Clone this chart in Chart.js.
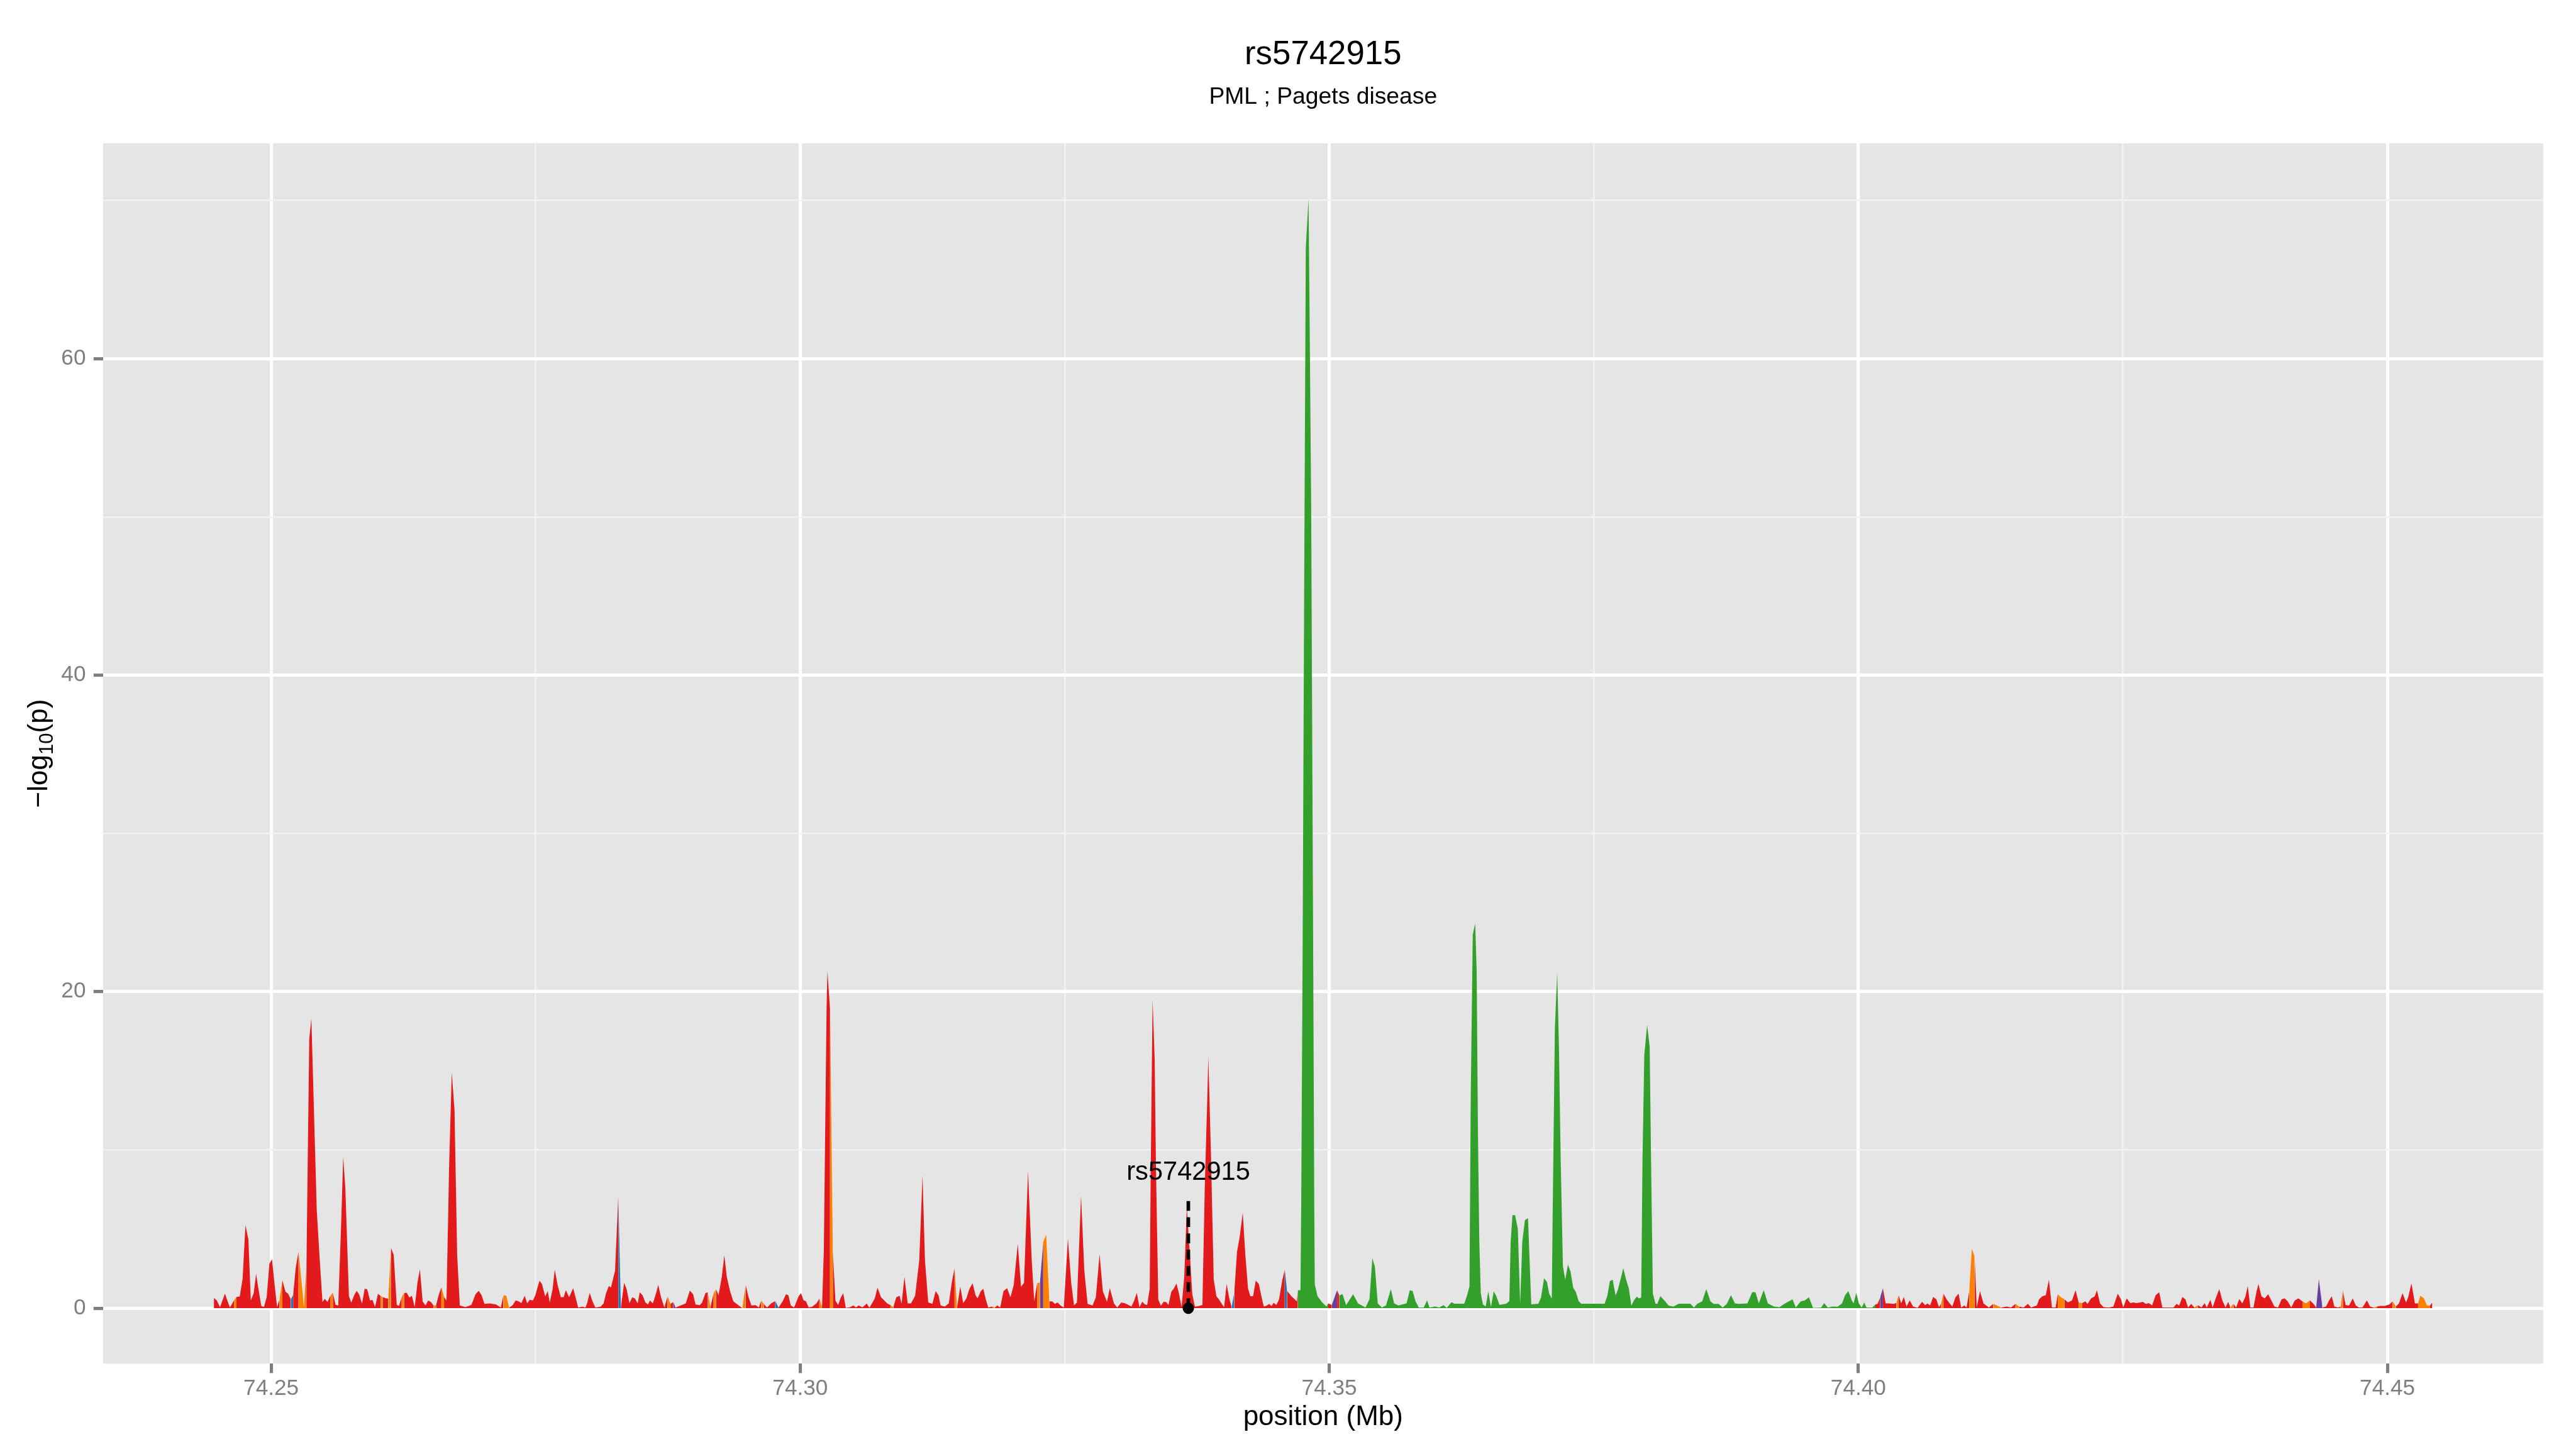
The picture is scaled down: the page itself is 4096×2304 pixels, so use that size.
<!DOCTYPE html>
<html><head><meta charset="utf-8">
<script src="https://cdn.jsdelivr.net/npm/chart.js@4.4.1/dist/chart.umd.min.js"></script>
<style>html,body{margin:0;padding:0;background:#fff;}#wrap{width:4096px;height:2304px;position:relative;}</style>
</head><body><div id="wrap"><canvas id="c"></canvas></div>
<script>
// ---------------- data ----------------
const chartTitle = 'rs5742915';
const chartSubtitle = 'PML ; Pagets disease';
const xAxisTitle = 'position (Mb)';
const leadSnp = 'rs5742915';
const leadPos = 74.33668;
const leadLogP = 7.0;
const leadLabelY = 8.1;

const positionMb = [
74.24459,74.24486,74.24517,74.24563,74.24610,74.24649,74.24672,74.24703,74.24730,74.24757,
74.24785,74.24808,74.24835,74.24858,74.24873,74.24907,74.24932,74.24958,74.24983,74.25008,
74.25034,74.25056,74.25079,74.25106,74.25135,74.25161,74.25186,74.25208,74.25233,74.25259,
74.25287,74.25309,74.25333,74.25360,74.25380,74.25431,74.25456,74.25485,74.25507,74.25532,
74.25558,74.25583,74.25609,74.25634,74.25659,74.25681,74.25701,74.25735,74.25757,74.25786,
74.25808,74.25832,74.25859,74.25884,74.25908,74.25935,74.25958,74.25982,74.26009,74.26036,
74.26056,74.26082,74.26107,74.26132,74.26158,74.26187,74.26208,74.26234,74.26256,74.26281,
74.26307,74.26330,74.26357,74.26383,74.26406,74.26432,74.26459,74.26484,74.26510,74.26535,
74.26558,74.26584,74.26609,74.26634,74.26657,74.26682,74.26707,74.26733,74.26758,74.26783,
74.26834,74.26868,74.26893,74.26931,74.26962,74.26989,74.27016,74.27067,74.27125,74.27171,
74.27195,74.27222,74.27249,74.27280,74.27311,74.27338,74.27365,74.27396,74.27420,74.27443,
74.27474,74.27497,74.27513,74.27536,74.27559,74.27590,74.27614,74.27633,74.27660,74.27680,
74.27707,74.27738,74.27765,74.27785,74.27816,74.27854,74.27882,74.27901,74.27940,74.27971,
74.27986,74.28010,74.28037,74.28064,74.28114,74.28142,74.28165,74.28192,74.28211,74.28250,
74.28281,74.28305,74.28336,74.28359,74.28386,74.28413,74.28437,74.28464,74.28483,74.28510,
74.28537,74.28561,74.28580,74.28607,74.28638,74.28658,74.28685,74.28716,74.28747,74.28774,
74.28801,74.28821,74.28871,74.28918,74.28957,74.28988,74.29011,74.29050,74.29073,74.29104,
74.29127,74.29151,74.29182,74.29205,74.29228,74.29259,74.29283,74.29306,74.29337,74.29368,
74.29415,74.29453,74.29484,74.29512,74.29539,74.29578,74.29609,74.29632,74.29655,74.29686,
74.29725,74.29764,74.29795,74.29834,74.29865,74.29888,74.29911,74.29942,74.29986,74.30007,
74.30032,74.30054,74.30080,74.30113,74.30156,74.30181,74.30206,74.30223,74.30249,74.30257,
74.30282,74.30308,74.30333,74.30359,74.30380,74.30406,74.30431,74.30468,74.30502,74.30527,
74.30553,74.30587,74.30629,74.30654,74.30705,74.30730,74.30764,74.30822,74.30853,74.30880,
74.30908,74.30939,74.30958,74.30985,74.31016,74.31047,74.31086,74.31125,74.31156,74.31179,
74.31210,74.31249,74.31280,74.31307,74.31327,74.31366,74.31404,74.31435,74.31459,74.31482,
74.31513,74.31540,74.31571,74.31598,74.31629,74.31657,74.31676,74.31707,74.31730,74.31754,
74.31777,74.31816,74.31839,74.31862,74.31890,74.31921,74.31955,74.31987,74.32018,74.32056,
74.32087,74.32115,74.32153,74.32188,74.32212,74.32239,74.32266,74.32297,74.32324,74.32355,
74.32382,74.32406,74.32433,74.32460,74.32491,74.32530,74.32561,74.32588,74.32615,74.32654,
74.32685,74.32716,74.32763,74.32794,74.32829,74.32860,74.32899,74.32926,74.32965,74.32996,
74.33034,74.33073,74.33130,74.33156,74.33181,74.33206,74.33232,74.33257,74.33279,74.33303,
74.33313,74.33330,74.33350,74.33362,74.33384,74.33409,74.33435,74.33460,74.33480,74.33507,
74.33531,74.33556,74.33578,74.33604,74.33629,74.33654,74.33683,74.33705,74.33730,74.33764,
74.33801,74.33823,74.33844,74.33857,74.33882,74.33908,74.33933,74.33958,74.33984,74.34006,
74.34030,74.34055,74.34077,74.34102,74.34128,74.34153,74.34182,74.34207,74.34232,74.34254,
74.34280,74.34305,74.34334,74.34356,74.34381,74.34406,74.34432,74.34454,74.34474,74.34500,
74.34525,74.34555,74.34579,74.34601,74.34643,74.34674,74.34693,74.34703,74.34728,74.34735,
74.34748,74.34762,74.34778,74.34804,74.34812,74.34829,74.34846,74.34858,74.34863,74.34889,
74.34931,74.34973,74.34990,74.35024,74.35074,74.35095,74.35125,74.35159,74.35225,74.35272,
74.35342,74.35380,74.35407,74.35431,74.35458,74.35497,74.35536,74.35582,74.35613,74.35652,
74.35730,74.35761,74.35788,74.35815,74.35846,74.35893,74.35924,74.35947,74.36001,74.36040,
74.36079,74.36110,74.36156,74.36182,74.36275,74.36300,74.36325,74.36337,74.36356,74.36379,
74.36393,74.36405,74.36418,74.36432,74.36452,74.36478,74.36503,74.36528,74.36554,74.36579,
74.36608,74.36638,74.36672,74.36702,74.36714,74.36731,74.36756,74.36782,74.36804,74.36824,
74.36849,74.36878,74.36909,74.36976,74.37001,74.37030,74.37057,74.37078,74.37103,74.37111,
74.37132,74.37154,74.37171,74.37187,74.37208,74.37230,74.37255,74.37280,74.37306,74.37331,
74.37356,74.37382,74.37602,74.37627,74.37652,74.37678,74.37706,74.37728,74.37779,74.37805,
74.37830,74.37855,74.37880,74.37906,74.37926,74.37948,74.37960,74.37977,74.38004,74.38028,
74.38041,74.38058,74.38083,74.38100,74.38129,74.38176,74.38207,74.38252,74.38303,74.38413,
74.38446,74.38477,74.38524,74.38563,74.38602,74.38633,74.38679,74.38718,74.38757,74.38796,
74.38834,74.38873,74.38951,74.38997,74.39028,74.39059,74.39106,74.39145,74.39203,74.39254,
74.39300,74.39378,74.39409,74.39455,74.39494,74.39533,74.39572,74.39649,74.39677,74.39711,
74.39762,74.39804,74.39846,74.39875,74.39905,74.39938,74.39955,74.39980,74.40005,74.40031,
74.40056,74.40077,74.40132,74.40161,74.40182,74.40207,74.40232,74.40258,74.40287,74.40329,
74.40359,74.40380,74.40405,74.40430,74.40455,74.40485,74.40518,74.40560,74.40602,74.40632,
74.40653,74.40678,74.40707,74.40737,74.40762,74.40783,74.40804,74.40834,74.40863,74.40888,
74.40918,74.40947,74.40972,74.41002,74.41023,74.41048,74.41073,74.41098,74.41119,74.41149,
74.41183,74.41233,74.41275,74.41309,74.41351,74.41401,74.41443,74.41485,74.41519,74.41561,
74.41603,74.41632,74.41687,74.41708,74.41737,74.41771,74.41801,74.41830,74.41864,74.41885,
74.41914,74.41948,74.41981,74.42019,74.42053,74.42082,74.42116,74.42145,74.42166,74.42200,
74.42234,74.42255,74.42284,74.42318,74.42368,74.42410,74.42452,74.42482,74.42503,74.42536,
74.42570,74.42599,74.42629,74.42662,74.42688,74.42717,74.42746,74.42776,74.42810,74.42843,
74.42873,74.42978,74.43007,74.43032,74.43062,74.43091,74.43116,74.43146,74.43175,74.43209,
74.43243,74.43272,74.43293,74.43327,74.43348,74.43377,74.43411,74.43440,74.43470,74.43495,
74.43516,74.43545,74.43570,74.43600,74.43629,74.43659,74.43680,74.43705,74.43734,74.43764,
74.43781,74.43810,74.43840,74.43873,74.43903,74.43932,74.43966,74.44000,74.44029,74.44058,
74.44091,74.44125,74.44159,74.44197,74.44230,74.44268,74.44302,74.44327,74.44352,74.44386,
74.44420,74.44449,74.44474,74.44499,74.44533,74.44558,74.44579,74.44605,74.44638,74.44672,
74.44701,74.44730,74.44764,74.44806,74.44836,74.44869,74.44899,74.44933,74.44975,74.45017,
74.45050,74.45080,74.45109,74.45143,74.45176,74.45197,74.45227,74.45260,74.45290,74.45311,
74.45345,74.45374,74.45403,74.45424
];

const logP = [
0.65,0.49,0.06,0.92,0.04,0.49,0.71,0.74,1.85,5.25,
4.35,0.48,0.95,2.18,1.5,0.14,0.07,0.7,2.8,3.09,
1.4,0.07,0.56,1.76,1.05,0.91,0.56,0.84,2.6,3.58,
1.7,0.07,2.5,17.0,18.3,6.2,3.4,0.39,0.59,0.39,
0.77,0.98,0.21,0.17,4.8,9.55,7.6,0.77,0.35,0.84,
1.1,0.87,0.28,1.24,1.19,0.49,0.52,0.07,0.91,0.77,
0.7,0.63,0.6,3.82,3.37,0.21,0.14,0.7,0.96,0.98,
0.67,0.79,0.07,1.62,2.46,0.42,0.17,0.49,0.39,0.17,
0.18,0.84,1.33,0.7,0.49,9.0,14.9,12.5,3.37,0.17,
0.07,0.14,0.21,0.88,1.10,0.82,0.27,0.30,0.23,0.04,
0.82,0.79,0.04,0.17,0.49,0.43,0.32,0.79,0.30,0.53,
0.49,0.82,1.21,1.73,1.53,0.75,1.08,0.36,1.21,2.44,
1.47,0.69,0.71,1.14,0.69,1.27,0.56,0.04,0.09,0.04,
0.30,0.97,0.43,0.04,0.09,0.30,0.95,1.40,1.31,2.37,
7.11,0.04,1.60,1.21,0.32,0.69,0.62,0.30,1.01,0.82,
0.36,0.23,0.49,0.30,0.95,1.47,0.69,0.04,0.75,0.27,
0.39,0.04,0.17,0.30,1.12,0.88,0.23,0.19,0.36,0.95,
1.01,0.04,0.95,1.21,0.82,1.98,3.35,1.98,1.08,0.43,
0.19,0.0,1.47,0.69,0.17,0.19,0.04,0.49,0.27,0.04,
0.30,0.45,0.04,0.43,0.88,0.82,0.17,0.04,0.77,0.95,
0.50,0.44,0.05,0.09,0.32,0.62,0.05,3.6,18.9,21.3,
18.9,3.6,0.47,0.20,0.62,0.95,0.02,0.05,0.17,0.05,
0.17,0.05,0.29,0.02,0.62,1.3,0.69,0.30,0.19,0.06,
0.69,0.79,0.27,1.98,0.30,0.30,0.79,3.02,8.40,3.02,
0.36,0.27,1.08,0.82,0.17,0.10,0.30,1.73,2.53,0.04,
1.36,0.32,0.62,1.21,1.57,0.82,0.62,1.08,1.23,0.56,
0.04,0.10,0.04,0.17,0.04,1.08,1.27,0.69,1.47,4.06,
1.34,1.60,8.66,3.02,0.43,1.57,1.62,4.19,4.64,0.43,
0.43,0.27,0.36,0.17,0.04,4.38,1.60,0.17,0.36,7.11,
2.37,0.27,0.17,0.69,3.41,1.08,0.40,1.27,0.30,0.04,
0.36,0.30,0.10,0.48,0.97,0.06,0.41,0.24,0.20,1.25,
8.97,19.5,15.7,8.97,0.55,0.15,0.41,0.38,0.20,1.04,
1.25,1.56,0.97,0.06,1.95,6.38,3.36,0.90,0.10,0.13,
0.20,7.57,12.5,15.9,9.68,1.81,0.76,0.55,0.27,0.06,
1.53,0.62,0.06,0.97,3.57,4.48,6.03,3.36,1.25,0.76,
0.76,1.74,1.53,0.83,0.10,0.15,0.27,0.13,0.34,0.20,
0.55,1.74,2.44,1.10,0.75,0.56,0.43,1.14,1.14,6.85,
22.5,44.4,67.0,70.1,64.2,50.6,25.4,6.6,1.5,0.76,
0.38,0.10,0.30,0.2,1.14,0.8,0.9,0.19,0.88,0.30,
0.04,0.56,3.15,2.63,0.30,0.04,0.17,1.21,0.30,0.17,
0.30,1.14,1.08,0.43,0.04,0.04,0.49,0.04,0.10,0.04,
0.19,0.02,0.38,0.28,0.28,0.76,1.37,13.4,23.6,24.3,
21.3,11.1,4.2,0.93,0.24,0.10,1.07,0.07,1.07,0.76,
0.21,0.24,0.28,0.45,4.2,5.87,5.87,5.0,0.24,4.2,
5.57,5.69,0.24,0.28,0.67,1.89,1.66,0.93,0.59,5.95,
17.7,21.2,16.3,9.4,2.66,1.8,2.75,2.32,1.28,1.02,
0.45,0.28,0.28,0.76,1.71,1.80,0.80,1.19,2.53,1.80,
1.28,0.16,0.50,0.73,0.62,0.67,9.4,16.0,17.9,16.5,
9.4,0.93,0.28,0.28,0.76,0.42,0.16,0.10,0.28,0.28,
0.04,0.27,0.43,1.21,0.43,0.27,0.27,0.04,0.27,0.82,
0.30,0.27,0.30,1.01,1.01,0.30,1.14,0.30,0.10,0.06,
0.27,0.56,0.04,0.43,0.49,0.69,0.02,0.04,0.32,0.04,
0.10,0.09,0.30,0.82,1.08,0.49,0.30,0.97,0.30,0.04,
0.36,0.04,0.04,0.23,0.27,0.69,1.27,0.30,0.30,0.27,
0.32,0.82,0.30,0.71,0.10,0.49,0.10,0.02,0.40,0.19,
0.30,0.17,0.71,0.56,0.06,0.30,0.92,0.56,0.30,0.10,
0.69,0.92,0.04,0.17,0.04,1.08,3.76,3.28,0.04,1.08,
0.30,0.04,0.27,0.17,0.04,0.10,0.04,0.27,0.10,0.04,
0.27,0.04,0.17,0.56,0.75,0.82,1.79,0.04,0.04,0.88,
0.69,0.56,0.36,0.49,1.14,0.36,0.32,0.43,0.27,0.62,
0.75,1.14,0.30,0.06,0.04,0.10,0.92,0.56,0.04,0.62,
0.32,0.36,0.32,0.36,0.40,0.27,0.32,0.17,0.82,1.01,
0.04,0.04,0.27,0.17,0.71,0.56,0.04,0.27,0.04,0.19,
0.04,0.32,0.04,0.53,0.04,0.62,1.21,0.49,0.04,0.40,
0.04,0.27,0.04,0.58,0.30,0.75,1.40,0.04,0.04,1.08,
1.53,0.75,0.62,0.88,0.49,0.10,0.04,0.56,0.62,0.43,
0.04,0.49,0.62,0.43,0.30,0.49,0.27,0.04,1.83,0.04,
0.10,0.49,0.75,0.10,0.04,0.10,1.12,0.19,0.17,0.62,
0.17,0.04,0.04,0.49,0.10,0.04,0.10,0.14,0.14,0.23,
0.43,0.10,0.30,0.95,0.36,0.71,1.57,0.30,0.30,0.79,
0.62,0.17,0.17,0.36
];

// LD class of each SNP (r = red, o = orange, g = green, b = blue, p = purple)
const ldClass = [
'rrrrrorrrr','rrrrrrrrrr','rrorrrbrro','oorrrrrrrr','orrrrrrrrr',
'rrrrrrrrro','rrorrrrorr','rrrrrrrrro','rrorrrrrrr','rrrrrrrrrr',
'oorrrrrrrr','rrrrrrrrrr','rrrrrrrrrr','rrrrrrrrrr','brrrrrrrrr',
'rrrrrrrror','prrrrrrrrr','ororrrrrrr','rorrrrrorr','rbrrrrrrrr',
'rrrrrorrrr','orrrrrrrrr','rrrrrrrror','rrrrrrrrrr','rrrrrrrror',
'rrrrrrrrrr','rorrrrrrrr','rrrrropoor','rrrrrrrrrr','rrrrrrrrrr',
'rrrrrrrrrr','rrrrrrrrrr','rrrrrrrrrr','rrrrrrrrrr','rrbrrrrrrr',
'rrrrrrrrrr','rrbrrrrggg','gggggggggg','ggrprggggg','gggggggggg',
'gggggggggg','gggggggggg','gggggggggg','gggggggggg','gggggggggg',
'gggggggggg','gggggggggg','gggggggggg','gggggggggg','gggggggggg',
'gggggggggg','gggggggggg','gggggggggg','gggrrprrrr','orrrrrrrrr',
'rrrrrorrrr','rrrrroorrr','rroorrrorr','rrrrrrrrro','orrrrorrrr',
'rrrrrrrrrr','rrrrrrrrrr','rrrrrrrror','rrrrrrrrrr','orrrrrrrrr',
'rrrrrrrrrr','rrroorrppr','rrrrrorrrr','rrrrrorrrr','orrrrrrroo',
'oorr'
].join('').split('');

const ldColors = { r: '#E31A1C', o: '#FF7F00', g: '#33A02C', b: '#1F78B4', p: '#6A3D9A' };

const xMajorTicks = [74.25, 74.30, 74.35, 74.40, 74.45];
const xMinorTicks = [74.275, 74.325, 74.375, 74.425];
const yMajorTicks = [0, 20, 40, 60];
const yMinorTicks = [10, 30, 50, 70];
const xLimits = [74.23411, 74.46472];
const yLimits = [-3.505, 73.605];

// ---------------- drawing ----------------
const FONT = '"Liberation Sans", Arial, Helvetica, sans-serif';
Chart.defaults.font.family = FONT;

const n = Math.min(positionMb.length, logP.length);
const areaPoints = [];
for (let i = 0; i < n; i++) areaPoints.push({ x: positionMb[i], y: logP[i] });

const isMajor = (list, c) => !!(c && c.tick && list.includes(c.tick.value));

const decor = {
  id: 'decor',
  beforeDraw(chart) {
    const { ctx, chartArea: a } = chart;
    ctx.save();
    ctx.fillStyle = '#FFFFFF';
    ctx.fillRect(0, 0, chart.width, chart.height);
    ctx.fillStyle = '#E5E5E5';
    ctx.fillRect(a.left, a.top, a.right - a.left, a.bottom - a.top);
    ctx.restore();
  },
  afterDatasetsDraw(chart) {
    const { ctx } = chart;
    const xs = chart.scales.x, ys = chart.scales.y;
    ctx.save();
    ctx.fillStyle = '#000000';
    ctx.font = `41.6px ${FONT}`;
    ctx.textAlign = 'center';
    ctx.textBaseline = 'alphabetic';
    ctx.fillText(leadSnp, xs.getPixelForValue(leadPos), ys.getPixelForValue(leadLabelY));
    ctx.restore();
  },
  afterDraw(chart) {
    const { ctx, chartArea: a } = chart;
    const cx = (a.left + a.right) / 2;
    const cy = (a.top + a.bottom) / 2;
    ctx.save();
    ctx.fillStyle = '#000000';
    ctx.textAlign = 'center';
    ctx.textBaseline = 'alphabetic';
    ctx.font = `52.8px ${FONT}`;
    ctx.fillText(chartTitle, cx, 101.8);
    ctx.font = `37.3px ${FONT}`;
    ctx.fillText(chartSubtitle, cx, 165);
    ctx.font = `44px ${FONT}`;
    ctx.fillText(xAxisTitle, cx, 2266);
    // y axis title with subscript
    ctx.translate(75, cy);
    ctx.rotate(-Math.PI / 2);
    ctx.textAlign = 'left';
    const big = `44px ${FONT}`, small = `31px ${FONT}`;
    ctx.font = big;
    const w1 = ctx.measureText('\u2212log').width;
    const w3 = ctx.measureText('(p)').width;
    ctx.font = small;
    const w2 = ctx.measureText('10').width;
    const x0 = -(w1 + w2 + w3) / 2;
    ctx.font = big; ctx.fillText('\u2212log', x0, 0);
    ctx.font = small; ctx.fillText('10', x0 + w1, 9);
    ctx.font = big; ctx.fillText('(p)', x0 + w1 + w2, 0);
    ctx.restore();
  }
};

new Chart(document.getElementById('c'), {
  type: 'line',
  data: {
    datasets: [
      {
        label: 'lead',
        type: 'scatter',
        data: [{ x: leadPos, y: 0 }],
        pointRadius: 9.1,
        pointBackgroundColor: '#000000',
        pointBorderWidth: 0,
        order: 1
      },
      {
        label: 'leadline',
        data: [{ x: leadPos, y: 0 }, { x: leadPos, y: leadLogP }],
        borderColor: '#000000',
        borderWidth: 5.7,
        borderDash: [15.6, 10.2],
        borderCapStyle: 'butt',
        pointRadius: 0,
        fill: false,
        order: 2
      },
      {
        label: 'logp',
        data: areaPoints,
        fill: 'origin',
        backgroundColor: ldColors.r,
        borderColor: 'rgba(0,0,0,0)',
        borderWidth: 0,
        pointRadius: 0,
        tension: 0,
        segment: {
          backgroundColor: c => ldColors[ldClass[c.p0DataIndex]] || ldColors.r
        },
        order: 3
      }
    ]
  },
  options: {
    responsive: true,
    maintainAspectRatio: false,
    devicePixelRatio: 1,
    animation: false,
    events: [],
    layout: { padding: { top: 227.8, right: 52.2, bottom: 0, left: 0 } },
    plugins: { legend: { display: false }, tooltip: { enabled: false }, title: { display: false } },
    scales: {
      x: {
        type: 'linear',
        position: 'bottom',
        min: xLimits[0],
        max: xLimits[1],
        afterBuildTicks: s => { s.ticks = xMajorTicks.concat(xMinorTicks).sort((a, b) => a - b).map(v => ({ value: v })); },
        afterFit: s => { s.height = 135.7; },
        ticks: {
          autoSkip: false, maxRotation: 0, minRotation: 0, padding: 4,
          color: '#7F7F7F', font: { size: 35.2 },
          callback: v => xMajorTicks.includes(v) ? v.toFixed(2) : ''
        },
        grid: {
          color: c => isMajor(xMajorTicks, c) ? '#FFFFFF' : '#F2F2F2',
          lineWidth: c => isMajor(xMajorTicks, c) ? 5.1 : 2.6,
          tickColor: c => isMajor(xMajorTicks, c) ? '#7F7F7F' : 'rgba(0,0,0,0)',
          tickWidth: 5.1,
          tickLength: 15,
          drawTicks: true
        },
        border: { display: false }
      },
      y: {
        type: 'linear',
        position: 'left',
        min: yLimits[0],
        max: yLimits[1],
        afterBuildTicks: s => { s.ticks = yMajorTicks.concat(yMinorTicks).sort((a, b) => a - b).map(v => ({ value: v })); },
        afterFit: s => { s.width = 163.8; },
        ticks: {
          autoSkip: false, padding: 12.3,
          color: '#7F7F7F', font: { size: 35.2 },
          callback: v => yMajorTicks.includes(v) ? String(v) : ''
        },
        grid: {
          color: c => isMajor(yMajorTicks, c) ? '#FFFFFF' : '#F2F2F2',
          lineWidth: c => isMajor(yMajorTicks, c) ? 5.1 : 2.6,
          tickColor: c => isMajor(yMajorTicks, c) ? '#7F7F7F' : 'rgba(0,0,0,0)',
          tickWidth: 5.1,
          tickLength: 15,
          drawTicks: true
        },
        border: { display: false }
      }
    }
  },
  plugins: [decor]
});
</script></body></html>
